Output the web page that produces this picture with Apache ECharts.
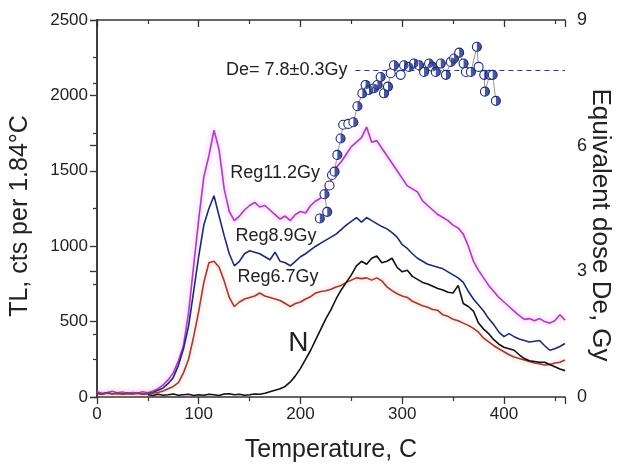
<!DOCTYPE html>
<html>
<head>
<meta charset="utf-8">
<script src="https://cdn.jsdelivr.net/npm/echarts@6/dist/echarts.min.js"></script>
<style>
  html, body { margin: 0; padding: 0; background: #fff; }
  #chart { width: 617px; height: 465px; }
</style>
</head>
<body>
<div id="chart"></div>
<script>
// Glow curves: temperature (C) and TL counts per 1.84 C
const temperature = [0,5,10,15,20,25,30,35,40,45,50,55,60,65,70,75,80,85,90,95,100,105,110,115,120,125,130,135,140,145,150,155,160,165,170,175,180,185,190,195,200,205,210,215,220,225,230,235,240,245,250,255,260,265,270,275,280,285,290,295,300,305,310,315,320,325,330,335,340,345,350,355,360,365,370,375,380,385,390,395,400,405,410,415,420,425,430,435,440,445,450,455,460];

const reg112 = [35,25,30,38,28,33,25,30,27,35,28,40,
  55,80,115,160,240,340,560,870,1180,1460,1600,1770,
  1640,1380,1230,1170,1200,1240,1270,1290,1260,1270,1240,1210,
  1180,1200,1170,1210,1230,1220,1270,1300,1320,1380,1440,1520,
  1560,1610,1660,1690,1720,1790,1690,1700,1650,1600,1550,1500,
  1450,1400,1380,1360,1300,1270,1240,1210,1190,1170,1140,1120,
  1080,1000,900,840,790,740,700,660,630,600,570,540,
  515,520,505,520,500,490,505,545,510];

const reg89 = [25,20,28,22,25,20,27,22,25,20,24,30,
  45,60,90,130,210,320,470,700,935,1140,1250,1335,
  1200,1070,950,870,900,950,970,960,950,930,910,960,
  900,890,870,900,930,950,975,1000,1020,1040,1060,1080,
  1110,1140,1165,1190,1160,1190,1170,1150,1130,1115,1090,1060,
  1010,985,950,920,900,880,870,860,850,830,810,790,
  760,700,650,610,570,520,480,430,400,420,400,385,
  375,365,370,375,340,310,320,335,355];

const reg67 = [22,18,25,20,24,18,22,20,25,18,22,25,
  30,40,55,70,95,160,250,400,570,760,890,900,
  860,770,660,600,630,650,660,670,690,670,660,650,
  640,620,600,620,630,650,665,690,700,705,715,730,
  740,760,775,790,785,790,775,790,770,730,705,685,
  670,660,635,620,605,595,580,575,545,535,515,505,
  490,475,455,430,390,365,340,320,300,280,265,255,
  245,235,225,220,212,215,225,230,245];

const natural = [null,null,null,null,null,null,null,null,null,null,15,10,
  18,12,15,20,12,15,18,10,15,12,18,15,
  10,20,22,15,18,12,15,20,18,25,35,45,
  55,70,100,140,190,250,310,380,450,520,580,650,
  710,760,810,870,900,880,920,935,890,900,920,860,
  830,840,800,780,760,750,735,720,710,695,690,740,
  620,600,570,490,450,420,380,350,330,320,310,280,
  255,240,235,230,230,215,200,185,175];

// Equivalent dose plateau (right axis)
const deTemp = [219.0,226.3,223.6,228.5,231.0,233.5,236.2,239.4,242.0,247.0,252.0,256.0,260.8,264.0,267.3,272.2,275.6,278.8,282.1,286.0,288.7,291.9,298.5,301.8,306.7,311.6,316.6,321.5,326.4,329.8,333.0,337.9,342.9,347.8,351.0,356.0,360.3,362.6,367.5,373.4,375.1,380.6,381.3,386.0,388.9,392.1];
const deDose = [4.26,4.42,4.84,5.05,5.30,5.38,5.78,6.17,6.50,6.52,6.56,6.94,7.25,7.45,7.33,7.37,7.45,7.64,7.25,7.41,7.73,7.92,7.69,7.92,7.88,7.96,7.92,7.76,7.96,7.88,7.76,7.96,7.69,8.00,8.08,8.22,7.96,7.76,7.76,8.36,7.88,7.69,7.29,7.69,7.69,7.07];
const deOpen = [0,0,0,1,1,0,0,0,1,1, 0,0,0,0,0,0,0,0,0,0, 1,0,1,0,0,0,0,0,0,0, 0,0,0,0,0,0,0,1,0,0, 1,0,0,1,0,0];
const dePlateau = 7.8;
const plateauRange = [254, 460];

// Curve labels: text and the data point each one is centred on
const curveLabels = [
  { text: 'Reg11.2Gy', at: [175, 1485], size: 18 },
  { text: 'Reg8.9Gy',  at: [176, 1068], size: 18 },
  { text: 'Reg6.7Gy',  at: [178, 796],  size: 18 },
  { text: 'N',         at: [198, 358],  size: 28 }
];

const FONT = 'Liberation Sans, Arial, Helvetica, sans-serif';
const AXIS_COLOR = '#333';
const TEXT_COLOR = '#222';

const pairs = (xs, ys) => xs.map((x, i) => [x, ys[i]]);

const chart = echarts.init(document.getElementById('chart'), null, { renderer: 'canvas' });

const curve = (name, values, color, glow) => ({
  name, type: 'line', xAxisIndex: 0, yAxisIndex: 0,
  data: pairs(temperature, values),
  showSymbol: false, symbol: 'none', connectNulls: false,
  lineStyle: Object.assign({ color, width: 1.6 },
    glow ? { shadowColor: glow, shadowBlur: 5 } : {}),
  itemStyle: { color },
  animation: false, z: 2
});

const deAll = pairs(deTemp, deDose);
const deHalf = deAll.filter((_, i) => !deOpen[i]);

const tickStyle = { color: AXIS_COLOR, width: 1.3 };
const minorStyle = { color: AXIS_COLOR, width: 1.2 };
const lineStyle = { color: AXIS_COLOR, width: 1.5 };

const xBase = {
  type: 'value', min: 0, max: 460, interval: 100,
  splitLine: { show: false },
  axisLine: { show: true, onZero: false, lineStyle }
};

chart.setOption({
  animation: false,
  backgroundColor: '#fff',
  grid: { left: 97, right: 52, top: 20, bottom: 68, containLabel: false },
  xAxis: [
    Object.assign({}, xBase, {
      position: 'bottom',
      axisTick: { show: true, inside: false, length: 7, lineStyle: tickStyle },
      minorTick: { show: true, splitNumber: 2, length: 4, lineStyle: minorStyle },
      axisLabel: { fontFamily: FONT, fontSize: 17, color: TEXT_COLOR, margin: 9,
        showMaxLabel: false, formatter: v => String(v) }
    }),
    Object.assign({}, xBase, {
      position: 'top',
      axisTick: { show: true, inside: true, length: 7, lineStyle: tickStyle },
      minorTick: { show: true, splitNumber: 2, length: 4, lineStyle: minorStyle },
      axisLabel: { show: false }
    })
  ],
  yAxis: [
    {
      type: 'value', min: 0, max: 2500, interval: 500, position: 'left',
      splitLine: { show: false },
      axisLine: { show: true, lineStyle },
      axisTick: { show: true, inside: false, length: 7, lineStyle: tickStyle },
      minorTick: { show: true, splitNumber: 2, length: 4, lineStyle: minorStyle },
      axisLabel: { fontFamily: FONT, fontSize: 17, color: TEXT_COLOR, margin: 9,
        formatter: v => String(v) }
    },
    {
      type: 'value', min: 0, max: 9, interval: 3, position: 'right',
      splitLine: { show: false },
      axisLine: { show: true, lineStyle },
      axisTick: { show: true, inside: true, length: 7, lineStyle: tickStyle },
      minorTick: { show: true, splitNumber: 2, length: 4, lineStyle: minorStyle },
      axisLabel: { fontFamily: FONT, fontSize: 18, color: TEXT_COLOR, margin: 12,
        formatter: v => String(v) }
    }
  ],
  series: [
    curve('Reg11.2Gy', reg112, '#ad3cc0', 'rgba(225,110,235,0.7)'),
    curve('Reg8.9Gy', reg89, '#1b2b76', null),
    curve('Reg6.7Gy', reg67, '#a03c2a', 'rgba(230,130,120,0.55)'),
    curve('N', natural, '#111111', null),
    {
      name: 'De', type: 'line', xAxisIndex: 0, yAxisIndex: 1,
      data: deAll,
      symbol: 'circle', symbolSize: 9, showSymbol: true,
      lineStyle: { color: '#8a8a8a', width: 0.9 },
      itemStyle: { color: '#ffffff', borderColor: '#1c2a80', borderWidth: 1.1 },
      z: 5,
      markLine: {
        silent: true, symbol: 'none',
        lineStyle: { type: [5, 4], color: '#2b3b7e', width: 1.2 },
        label: {
          show: true, position: 'start', distance: 8,
          formatter: 'De= ' + dePlateau + '±0.3Gy',
          fontFamily: FONT, fontSize: 18, color: TEXT_COLOR
        },
        data: [[{ coord: [plateauRange[0], dePlateau] }, { coord: [plateauRange[1], dePlateau] }]]
      }
    },
    {
      name: 'De half', type: 'scatter', xAxisIndex: 0, yAxisIndex: 1,
      data: deHalf,
      symbol: 'path://M0,0 A10,10 0 0,1 0,20 Z',
      symbolSize: [4.6, 9], symbolOffset: ['50%', 0],
      itemStyle: { color: '#1c2a80' },
      z: 6
    }
  ]
});

// Axis titles and curve labels
const titles = [
  { text: 'Temperature, C', x: 331, y: 450, rotation: 0, size: 25 },
  { text: 'TL, cts per 1.84°C', x: 20, y: 216, rotation: Math.PI / 2, size: 25 },
  { text: 'Equivalent dose De, Gy', x: 600, y: 225, rotation: -Math.PI / 2, size: 26 }
];

const textEl = (text, x, y, size, rotation) => ({
  type: 'text', x, y, rotation: rotation || 0, z: 10,
  style: {
    text, fill: TEXT_COLOR, font: size + 'px ' + FONT,
    textAlign: 'center', textVerticalAlign: 'middle'
  }
});

chart.setOption({
  graphic: titles.map(t => textEl(t.text, t.x, t.y, t.size, t.rotation)).concat(
    curveLabels.map(l => {
      const p = chart.convertToPixel({ xAxisIndex: 0, yAxisIndex: 0 }, l.at);
      return textEl(l.text, p[0], p[1], l.size, 0);
    })
  )
});
</script>
</body>
</html>
